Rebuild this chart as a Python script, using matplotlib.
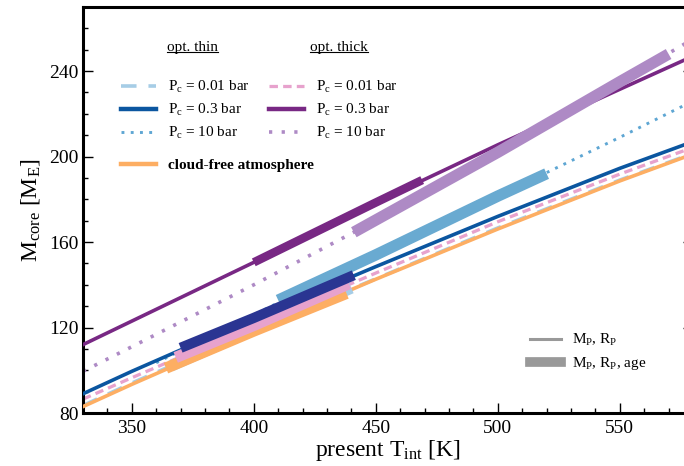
import numpy as np
import matplotlib
matplotlib.use("Agg")
import matplotlib.pyplot as plt
from matplotlib.lines import Line2D
from matplotlib.ticker import MultipleLocator

plt.rcParams["font.family"] = "Liberation Serif"
plt.rcParams["mathtext.fontset"] = "custom"
plt.rcParams["mathtext.rm"] = "Liberation Serif"
plt.rcParams["mathtext.it"] = "Liberation Serif:italic"
plt.rcParams["mathtext.bf"] = "Liberation Serif:bold"

# present-day intrinsic temperature grid [K]
T_GRID = [330, 350, 400, 450, 500, 550, 580]

# core mass [M_E] fitting M_P and R_P (thin lines)
thin_001 = [83.5, 94, 119, 142.8, 166.6, 189, 201.5]
thin_03 = [89, 99.5, 124.5, 148.5, 172, 194.5, 207]
thin_10_T = [360, 400, 450, 500, 550, 580]
thin_10 = [103.5, 126, 154, 181.5, 209, 226]
thick_001 = [86.5, 96.5, 121, 145.5, 169.5, 191.8, 204.3]
thick_03 = [112, 123, 150.5, 178.5, 205.5, 231.5, 247]
thick_10 = [99.5, 111, 140, 170, 202, 235, 255]
cloudfree = [83, 93.4, 118.4, 142.6, 166.1, 188.6, 201.2]

# ranges that also fit the age (thick segments)
age_thin_001_T, age_thin_001 = [366, 400, 440], [102, 119, 138.5]
age_thin_03_T, age_thin_03 = [370, 400, 441], [110.5, 124.5, 144.5]
age_thin_10_T, age_thin_10 = [410, 450, 500, 520], [132.8, 154, 181.5, 192]
age_thick_001_T, age_thick_001 = [368, 400, 439], [106, 121, 140.5]
age_thick_03_T, age_thick_03 = [400, 450, 469], [150.5, 178.5, 189]
age_thick_10_T, age_thick_10 = [441, 500, 550, 570], [164.6, 202, 235, 248]
age_cf_T, age_cf = [364, 400, 438], [101, 118.4, 136]

C_THIN_001 = "#a6cde6"
C_THIN_03 = "#0b56a0"
C_THIN_03_AGE = "#2a3592"
C_THIN_10 = "#5ea6d3"
C_THIN_10_AGE = "#69aad1"
C_THICK_001 = "#e7a2cd"
C_THICK_03 = "#782884"
C_THICK_10 = "#ae8ac5"
C_CF = "#fdae63"

LW = 2.6
LW_AGE = 8.2

DASH_LONG = (0, (4.3, 3.3))
DASH_SHORT = (0, (2.6, 1.6))
DOT_BLUE = (0, (1, 2.2))
DOT_PURPLE = (0, (0.9, 2.6))

fig = plt.figure(figsize=(6.84, 4.66), dpi=100)
ax = fig.add_axes([83 / 684, 53 / 466, 610 / 684, 406 / 466])

# thin curves
ax.plot(T_GRID, thin_001, color=C_THIN_001, lw=LW, ls=DASH_LONG, zorder=2)
ax.plot(T_GRID, thick_001, color=C_THICK_001, lw=LW * 0.9, ls=DASH_SHORT, zorder=2)
ax.plot(T_GRID, cloudfree, color=C_CF, lw=LW, zorder=3)
ax.plot(T_GRID, thin_03, color=C_THIN_03, lw=LW, zorder=3)
ax.plot(thin_10_T, thin_10, color=C_THIN_10, lw=LW * 0.8, ls=DOT_BLUE, zorder=2)
ax.plot(T_GRID, thick_10, color=C_THICK_10, lw=LW, ls=DOT_PURPLE, zorder=2)
ax.plot(T_GRID, thick_03, color=C_THICK_03, lw=LW, zorder=3)

# thick segments
seg = dict(lw=LW_AGE, solid_capstyle="butt")
ax.plot(age_thin_001_T, age_thin_001, color=C_THIN_001, zorder=4, **seg)
ax.plot(age_cf_T, age_cf, color=C_CF, zorder=5, **seg)
ax.plot(age_thick_001_T, age_thick_001, color=C_THICK_001, zorder=6, **seg)
ax.plot(age_thin_03_T, age_thin_03, color=C_THIN_03_AGE, zorder=7, lw=LW_AGE * 0.9,
        solid_capstyle="butt")
ax.plot(age_thin_10_T, age_thin_10, color=C_THIN_10_AGE, zorder=6, **seg)
ax.plot(age_thick_10_T, age_thick_10, color=C_THICK_10, zorder=6, **seg)
ax.plot(age_thick_03_T, age_thick_03, color=C_THICK_03, zorder=7, lw=LW_AGE * 0.75,
        solid_capstyle="butt")

ax.set_xlim(330, 580)
ax.set_ylim(80, 270)
ax.xaxis.set_major_locator(MultipleLocator(50))
ax.xaxis.set_minor_locator(MultipleLocator(10))
ax.yaxis.set_major_locator(MultipleLocator(40))
ax.yaxis.set_minor_locator(MultipleLocator(10))
ax.tick_params(which="both", direction="in", top=False, right=True,
               labelsize=14, width=1.0)
ax.tick_params(axis="x", which="major", length=7, pad=5)
ax.tick_params(axis="y", which="major", length=7, pad=3)
ax.tick_params(which="minor", length=3.5)
for s in ax.spines.values():
    s.set_linewidth(2.2)

ax.set_xlabel(r"present T$_\mathrm{int}$ [K]", fontsize=17, labelpad=1)
ax.set_ylabel(r"M$_\mathrm{core}$ [M$_\mathrm{E}$]", fontsize=17, labelpad=5)

# legends
def pc(v):
    return r"P$_\mathrm{c}$ = " + v + " bar"

leg_kw = dict(frameon=False, fontsize=11, handlelength=2.3, handletextpad=0.75,
              borderpad=0, borderaxespad=0, labelspacing=0.45, loc="center left")

h1 = [Line2D([], [], color=C_THIN_001, lw=LW, ls=DASH_LONG),
      Line2D([], [], color=C_THIN_03, lw=LW + 0.6),
      Line2D([], [], color=C_THIN_10, lw=LW * 0.8, ls=DOT_BLUE)]
leg1 = ax.legend(h1, [pc("0.01"), pc("0.3"), pc("10")],
                 bbox_to_anchor=((121 - 83) / 610, (413 - 110) / 406), **leg_kw)
ax.add_artist(leg1)

h2 = [Line2D([], [], color=C_THICK_001, lw=LW * 0.9, ls=DASH_SHORT),
      Line2D([], [], color=C_THICK_03, lw=LW + 0.6),
      Line2D([], [], color=C_THICK_10, lw=LW, ls=DOT_PURPLE)]
leg2 = ax.legend(h2, [pc("0.01"), pc("0.3"), pc("10")],
                 bbox_to_anchor=((269 - 83) / 610, (413 - 110) / 406), **leg_kw)
ax.add_artist(leg2)

leg3 = ax.legend([Line2D([], [], color=C_CF, lw=LW + 0.6)], ["cloud-free atmosphere"],
                 bbox_to_anchor=((121 - 83) / 610, (413 - 165) / 406),
                 prop={"weight": "bold", "size": 11},
                 **{k: v for k, v in leg_kw.items() if k != "fontsize"})
ax.add_artist(leg3)

h4 = [Line2D([], [], color="#999999", lw=2.2),
      Line2D([], [], color="#999999", lw=7)]
ax.legend(h4, [r"M$_\mathrm{P}$, R$_\mathrm{P}$", r"M$_\mathrm{P}$, R$_\mathrm{P}$, age"],
          bbox_to_anchor=((530 - 83) / 610, (413 - 352) / 406),
          **{**leg_kw, "handlelength": 2.0, "labelspacing": 0.45})

# underlined column headers
heads = [ax.text((167 - 83) / 610, (413 - 47) / 406, "opt. thin", transform=ax.transAxes,
                 fontsize=11, va="center", ha="left"),
         ax.text((310 - 83) / 610, (413 - 47) / 406, "opt. thick", transform=ax.transAxes,
                 fontsize=11, va="center", ha="left")]
fig.canvas.draw()
inv = ax.transAxes.inverted()
for t in heads:
    bb = t.get_window_extent()
    (x0, y0), (x1, _) = inv.transform([[bb.x0, bb.y0], [bb.x1, bb.y1]])
    ax.plot([x0, x1], [y0 + 0.004, y0 + 0.004], color="black", lw=0.8,
            transform=ax.transAxes, clip_on=False)

fig.savefig("out.png", dpi=100)
